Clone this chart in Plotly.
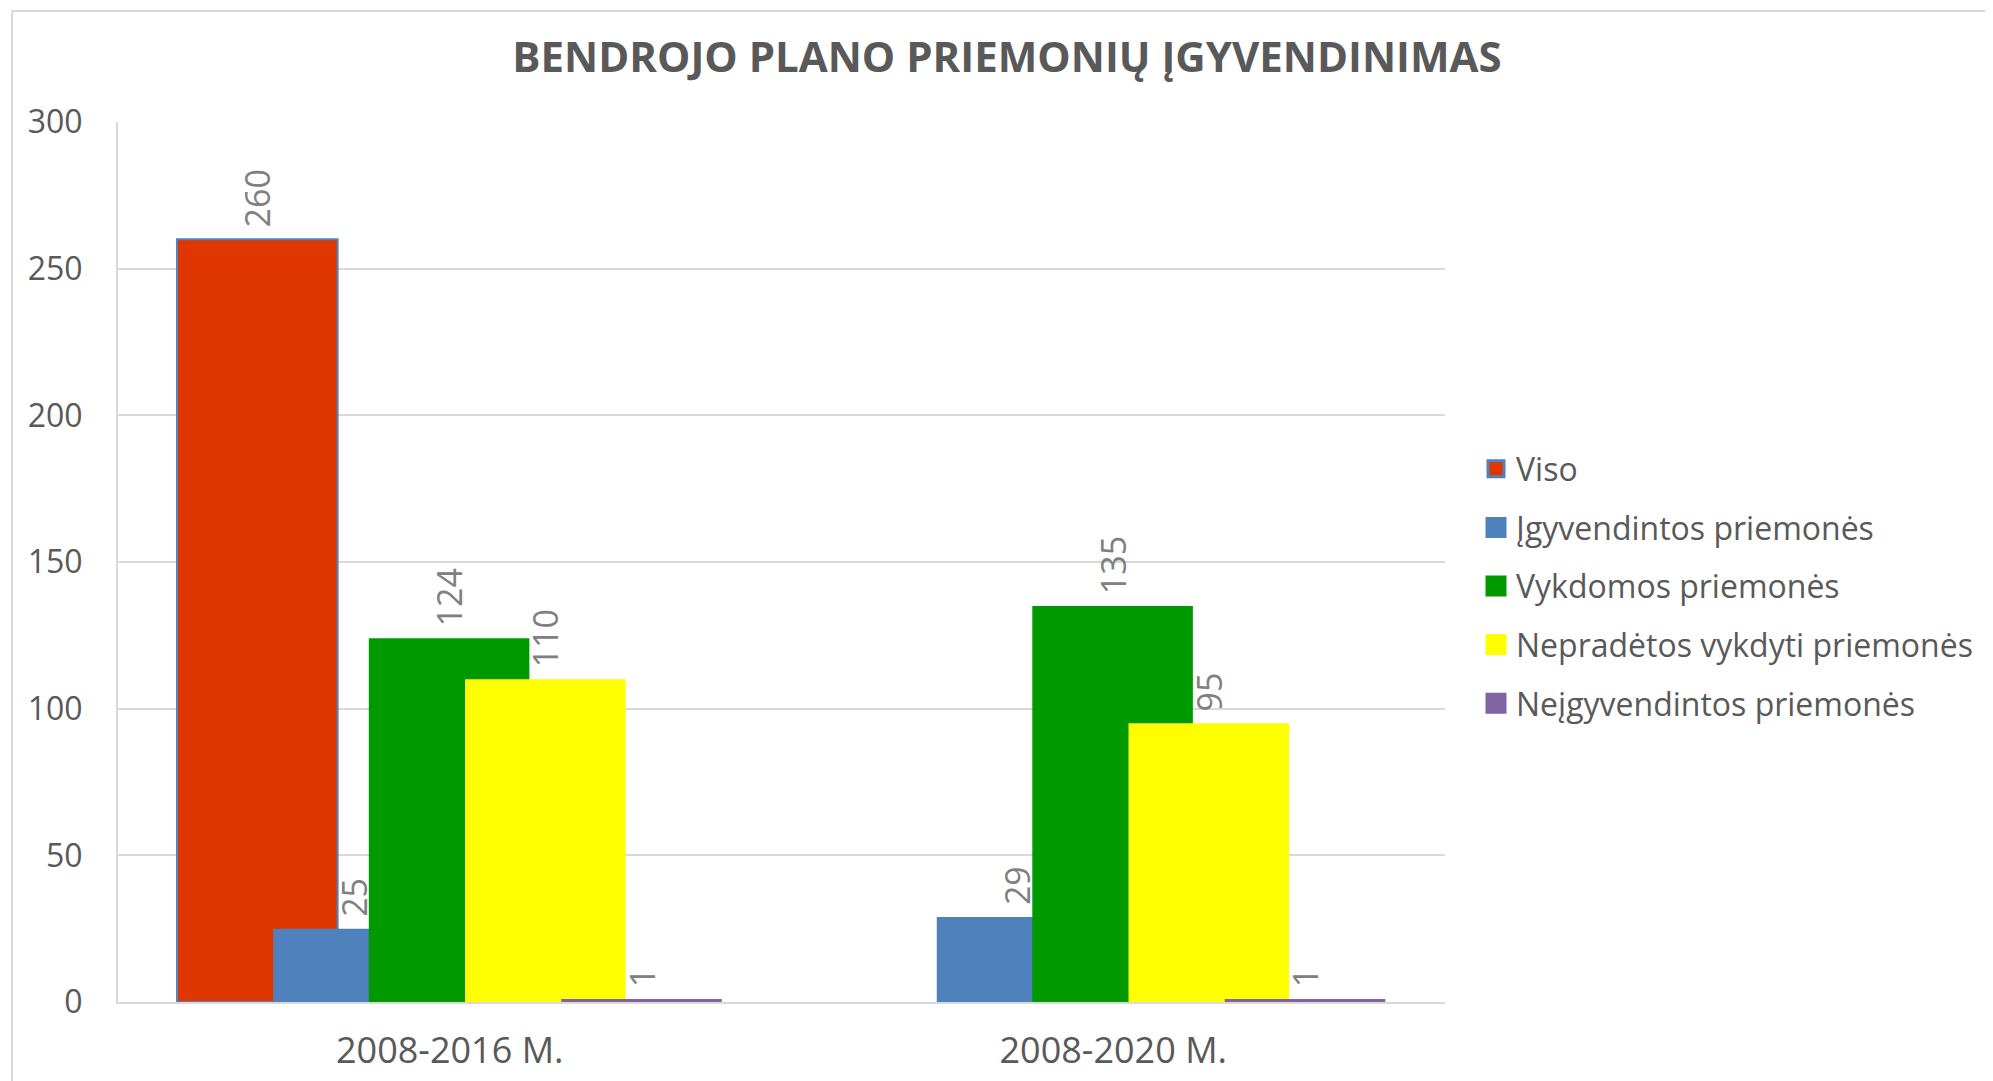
import plotly.graph_objects as go

categories = ["2008-2016 M.", "2008-2020 M."]
series_names = ["Viso", "Įgyvendintos priemonės", "Vykdomos priemonės",
                "Nepradėtos vykdyti priemonės", "Neįgyvendintos priemonės"]
viso = [260, None]
igyvendintos = [25, 29]
vykdomos = [124, 135]
nepradetos = [110, 95]
neigyvendintos = [1, 1]
series_values = [viso, igyvendintos, vykdomos, nepradetos, neigyvendintos]
colors = ["#E03600", "#4F81BD", "#009900", "#FFFF00", "#8064A2"]
y_ticks = [0, 50, 100, 150, 200, 250, 300]

# page body has an 8px margin; figure sized to fit the window
W, H = 1985, 1073
L, R, T, B = 110, 548, 114, 79
pw, ph = W - L - R, H - T - B

offsets = [-0.411, -0.266, -0.122, 0.023, 0.168]
bar_w = 0.242

fig = go.Figure()
for i, (name, vals, col) in enumerate(zip(series_names, series_values, colors)):
    line = dict(color="#4F81BD", width=2) if i == 0 else dict(width=0)
    fig.add_trace(go.Bar(
        x=categories, y=vals, name=name,
        marker=dict(color=col, line=line),
        offset=offsets[i], width=bar_w,
        text=[("" if v is None else "\u00a0" + str(v)) for v in vals],
        textposition="outside", textangle=-90,
        textfont=dict(family="Open Sans", size=34, color="#808080"),
        constraintext="none", cliponaxis=False,
        showlegend=False,
    ))
for i, (name, col) in enumerate(zip(series_names, colors)):
    line = dict(color="#4F81BD", width=3) if i == 0 else dict(color=col, width=5)
    fig.add_trace(go.Scatter(
        x=[None], y=[None], mode="markers", name=name,
        marker=dict(symbol="square", size=16, color=col, line=line),
        legendgroup=name, showlegend=True,
    ))

fig.update_layout(
    width=W, height=H,
    margin=dict(l=L, r=R, t=T, b=B, autoexpand=False),
    barmode="overlay",
    paper_bgcolor="white", plot_bgcolor="white",
    font=dict(family="Open Sans", color="#595959"),
    title=dict(text="BENDROJO PLANO PRIEMONIŲ ĮGYVENDINIMAS",
               font=dict(family="Open Sans", size=42, color="#595959", weight="bold"),
               x=(1007 - 8) / W, xanchor="center", xref="container",
               y=1 - 49 / H, yanchor="middle"),
    legend=dict(x=(1468 - L) / pw, xanchor="left", y=(994 - 578) / ph, yanchor="middle",
                font=dict(family="Open Sans", size=32, color="#595959"),
                tracegroupgap=14, itemwidth=30, bgcolor="rgba(0,0,0,0)"),
    showlegend=True,
)
fig.update_xaxes(
    type="category", showgrid=False, showline=True, linecolor="#D9D9D9", linewidth=2,
    ticks="", tickfont=dict(family="Open Sans", size=36, color="#595959"),
    ticklabelstandoff=16, range=[-0.5, 1.5], fixedrange=True,
)
fig.update_yaxes(
    range=[0, 300], tickvals=y_ticks, showgrid=True, gridcolor="#D9D9D9", gridwidth=2,
    showline=True, linecolor="#D9D9D9", linewidth=2, zeroline=False,
    ticks="", tickfont=dict(family="Open Sans", size=32, color="#595959"),
    ticklabelstandoff=27,
)
# outer chart border (visible top and left edges)
bx = (4 - L) / pw
by = (994 - 3) / ph
fig.add_shape(type="line", xref="paper", yref="paper", x0=bx, x1=bx, y0=-0.2, y1=by,
              line=dict(color="#D9D9D9", width=2))
fig.add_shape(type="line", xref="paper", yref="paper", x0=bx, x1=1.5, y0=by, y1=by,
              line=dict(color="#D9D9D9", width=2))

fig.write_html("out.html")
